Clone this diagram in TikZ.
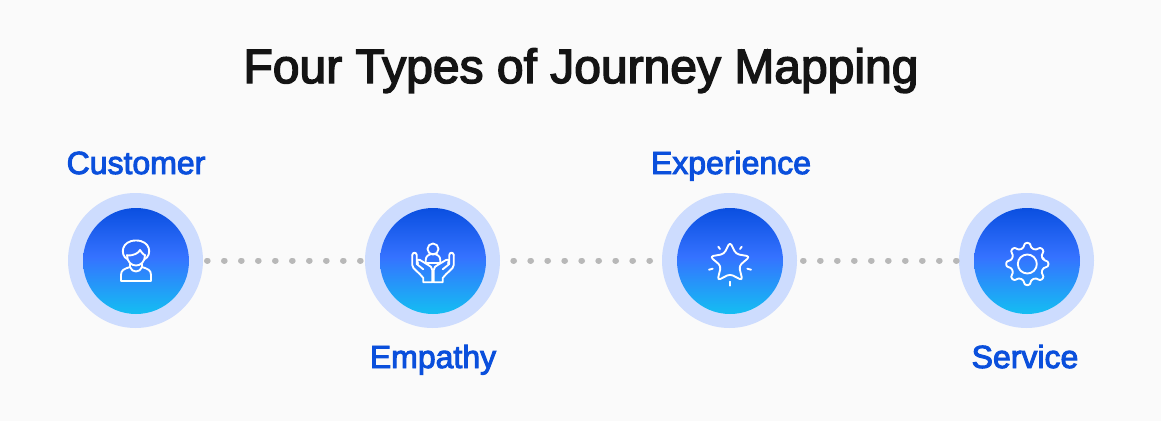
\documentclass[tikz,border=0pt]{standalone}
\usepackage{fontspec}
\setmainfont{Liberation Sans}[FakeBold=3]
\definecolor{bgc}{HTML}{FAFAFA}
\definecolor{titlec}{HTML}{141414}
\definecolor{labelc}{HTML}{0A4FDC}
\definecolor{ringc}{HTML}{CDDCFE}
\definecolor{dotc}{HTML}{B8B8B8}
\definecolor{c1}{HTML}{14BEF2}
\definecolor{c2}{HTML}{3572FF}
\definecolor{c3}{HTML}{0A4FE0}
\pgfdeclareverticalshading{discfill}{100bp}{
  color(0bp)=(c1);color(25bp)=(c1);color(52bp)=(c2);color(75bp)=(c3);color(100bp)=(c3)}
\tikzset{
  x=0.75pt,y=-0.75pt,
  ring/.style={circle,draw=none,fill=ringc,minimum size=101.25pt,inner sep=0pt,outer sep=0pt},
  disc/.style={circle,draw=none,shading=discfill,minimum size=79.5pt,inner sep=0pt,outer sep=0pt},
  dotline/.style={draw=dotc,line width=4.5pt,line cap=round,dash pattern=on 0.5pt off 12.25pt},
  ttl/.style={text=titlec,font=\fontsize{36pt}{40pt}\selectfont,inner sep=0pt,anchor=base},
  lab/.style={text=labelc,font=\fontsize{24pt}{28pt}\selectfont,inner sep=0pt,anchor=base},
  icon/.style={draw=white,line width=1.4pt,line join=round,line cap=round,fill=none},
}
\begin{document}
\begin{tikzpicture}
\useasboundingbox[fill=bgc] (0,0) rectangle (1161,421);
\node[ttl] (title) at (581,83) {Four Types of Journey Mapping};
\node[ring] (r1) at (135.5,260.5) {};
\node[ring] (r2) at (432.5,260.5) {};
\node[ring] (r3) at (729.5,260.5) {};
\node[ring] (r4) at (1026.5,260.5) {};
\node[disc] (d1) at (136,261) {};
\node[disc] (d2) at (433,261) {};
\node[disc] (d3) at (730,261) {};
\node[disc] (d4) at (1027,261) {};
\draw[dotline,shorten <=3pt,shorten >=2.5pt] (r1.east) -- (r2.west);
\draw[dotline,shorten <=10pt,shorten >=8.5pt] (r2.east) -- (r3.west);
\draw[dotline,shorten <=4.5pt,shorten >=1.2pt] (r3.east) -- (r4.west);
\node[lab] (l1) at (136,174) {Customer};
\node[lab] (l2) at (433,368) {Empathy};
\node[lab] (l3) at (731,174) {Experience};
\node[lab] (l4) at (1025,368) {Service};
% customer icon
\begin{scope}[shift={(d1)}]
\draw[icon] (-9,-2) .. controls (-16,-6) and (-15,-20.5) .. (0,-20.5) .. controls (15,-20.5) and (16,-6) .. (9,-2);
\draw[icon] (-9,-5.5) .. controls (-3,-5) and (3,-8) .. (4,-11) .. controls (6,-8) and (8,-6) .. (9,-5.5);
\draw[icon] (-9,-6) .. controls (-9,8) and (9,8) .. (9,-6);
\draw[icon] (-6,3) -- (-6,6) .. controls (-12,8) and (-15,9) .. (-15,14) -- (-15,20) -- (15,20) -- (15,14) .. controls (15,9) and (12,8) .. (6,6) -- (6,3);
\draw[icon] (-6,6) .. controls (-4,12) and (4,12) .. (6,6);
\end{scope}
% empathy icon
\begin{scope}[shift={(d2)}]
\draw[icon] (0,-12) circle (5.5);
\draw[icon] (-7.3,2) -- (-7.3,-1) .. controls (-7.3,-5) and (-4,-7) .. (0,-7) .. controls (4,-7) and (7.3,-5) .. (7.3,-1) -- (7.3,2) -- cycle;
% left hand
\draw[icon] (-20.7,-6) .. controls (-20.7,-9) and (-16.3,-9) .. (-16.3,-6) -- (-16.3,3) -- (-9.7,8.3);
\draw[icon] (-20.7,-6) -- (-20.7,4) .. controls (-20.7,8) and (-14,11) .. (-9.7,17) -- (-9.7,21.3) -- (-0.7,21.3) -- (-0.7,9) .. controls (-0.7,6) and (-3,5) .. (-4.7,4) -- (-13,-1) .. controls (-16,-2.5) and (-17,1) .. (-15,2.5);
% right hand
\draw[icon] (20.7,-6) .. controls (20.7,-9) and (16.3,-9) .. (16.3,-6) -- (16.3,3) -- (9.7,8.3);
\draw[icon] (20.7,-6) -- (20.7,4) .. controls (20.7,8) and (14,11) .. (9.7,17) -- (9.7,21.3) -- (0.7,21.3) -- (0.7,9) .. controls (0.7,6) and (3,5) .. (4.7,4) -- (13,-1) .. controls (16,-2.5) and (17,1) .. (15,2.5);
\end{scope}
% experience icon
\begin{scope}[shift={(d3)}]
\draw[icon,rounded corners=2.5pt] (0,-19) -- (6,-7) -- (20,-4.5) -- (9,5) -- (12.5,19.5) -- (0,13) -- (-12.5,19.5) -- (-9,5) -- (-20,-4.5) -- (-6,-7) -- cycle;
\draw[icon] (-11.7,-14.3) -- (-10,-12);
\draw[icon] (11.7,-14.3) -- (10,-12);
\draw[icon] (-21,8.7) -- (-17.3,7.7);
\draw[icon] (21,8.7) -- (17.3,7.7);
\draw[icon] (0,20.7) -- (0,24.7);
\end{scope}
% service icon
\begin{scope}[shift={(1027.3,264)}]
\draw[icon] (0,0) circle (9.5);
\draw[icon,rounded corners=1.8pt] (-12:16.5)
 \foreach \a in {0,45,...,315} { -- ({\a-8}:21.3) -- ({\a+8}:21.3) -- ({\a+12}:16.5) -- ({\a+33}:16.5)} -- cycle;
\end{scope}
\end{tikzpicture}
\end{document}
